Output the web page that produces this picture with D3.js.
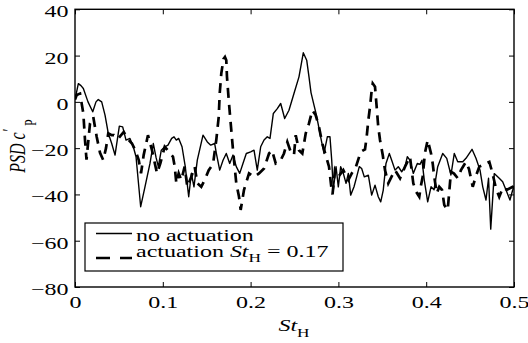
<!DOCTYPE html>
<html>
<head>
<meta charset="utf-8">
<script src="https://cdn.jsdelivr.net/npm/d3@7"></script>
<style>
  html, body { margin: 0; padding: 0; background: #fff; }
  svg { display: block; }
  text { font-family: "Liberation Serif", "DejaVu Serif", serif; fill: #000; }
</style>
</head>
<body>
<svg id="chart" width="528" height="343"></svg>
<script>
// Strouhal number axis and pressure-fluctuation PSD (dB) for both cases
const stNoAct = [0.000,0.0038,0.0068,0.0095,0.0148,0.0202,0.0239,0.0265,0.0304,0.0342,0.0379,0.0418,0.0456,0.0505,0.0543,0.0581,0.0626,0.0664,0.0695,0.0748,0.0797,0.0854,0.0892,0.0923,0.0949,0.0983,0.1022,0.1059,0.1101,0.1128,0.1154,0.1181,0.1219,0.1256,0.1295,0.1325,0.1355,0.1393,0.1458,0.1507,0.1546,0.1591,0.1609,0.1648,0.1686,0.1723,0.1762,0.1800,0.1837,0.1876,0.1913,0.1951,0.2001,0.2039,0.2076,0.2115,0.2153,0.2190,0.2221,0.2259,0.2304,0.2343,0.2388,0.2437,0.2494,0.2551,0.2600,0.2639,0.2665,0.2688,0.2722,0.2745,0.2768,0.2805,0.2836,0.2874,0.2904,0.2924,0.2942,0.2973,0.2999,0.3026,0.3056,0.3087,0.3113,0.3140,0.3178,0.3208,0.3238,0.3265,0.3295,0.3341,0.3379,0.3417,0.3454,0.3482,0.3511,0.3542,0.3580,0.3607,0.3645,0.3682,0.3721,0.3759,0.3785,0.3815,0.3853,0.3899,0.3929,0.3952,0.3978,0.4017,0.4055,0.4089,0.4131,0.4188,0.4234,0.4282,0.4320,0.4359,0.4416,0.4453,0.4522,0.4567,0.4613,0.4644,0.4681,0.4710,0.4735,0.4775,0.4832,0.4871,0.4917,0.4954,0.4985,0.5000];
const psdNoAct = [1.0,7.9,7.0,5.8,0.0,-4.3,0.0,1.0,0.0,-5.7,-13.6,-18.0,-23.0,-10.5,-10.8,-16.5,-15.8,-19.4,-23.7,-45.3,-36.7,-26.6,-18.0,-24.0,-28.0,-20.9,-19.4,-18.7,-15.8,-15.1,-16.5,-15.8,-19.4,-28.0,-41.0,-30.9,-36.7,-25.2,-14.4,-17.3,-18.7,-18.0,-22.0,-29.5,-25.2,-22.3,-26.6,-23.0,-28.0,-30.9,-26.6,-22.3,-21.6,-20.9,-29.5,-19.4,-16.5,-15.1,-15.8,-5.0,-2.9,-0.7,-7.2,-3.6,3.6,10.8,21.2,18.0,10.8,4.0,-1.4,-5.0,-9.3,-16.5,-22.3,-15.1,-15.1,-25.2,-38.1,-28.0,-36.7,-28.0,-30.9,-35.2,-30.9,-40.3,-36.7,-32.4,-28.0,-28.8,-32.4,-31.7,-40.3,-36.0,-41.0,-43.2,-38.1,-26.6,-22.3,-25.2,-29.5,-28.0,-30.2,-28.0,-23.7,-25.2,-30.9,-26.6,-27.0,-25.2,-33.8,-43.2,-36.7,-38.0,-28.0,-22.3,-24.4,-31.6,-22.3,-25.9,-25.9,-24.4,-20.5,-24.4,-29.5,-36.7,-42.4,-33.0,-55.0,-31.0,-33.0,-34.5,-38.8,-42.4,-38.1,-37.0];

const stAct = [0.000,0.0019,0.0057,0.0095,0.0114,0.0131,0.0171,0.0208,0.0247,0.0285,0.0322,0.0353,0.0379,0.0418,0.0444,0.0490,0.0555,0.0612,0.0649,0.0687,0.0726,0.0752,0.0782,0.0831,0.0877,0.0934,0.0972,0.1022,0.1059,0.1116,0.1136,0.1154,0.1181,0.1211,0.1249,0.1279,0.1325,0.1363,0.1393,0.1438,0.1477,0.1523,0.1572,0.1609,0.1637,0.1648,0.1666,0.1691,0.1708,0.1723,0.1731,0.1751,0.1780,0.1800,0.1837,0.1868,0.1887,0.1925,0.1982,0.2039,0.2096,0.2153,0.2210,0.2244,0.2286,0.2343,0.2380,0.2418,0.2457,0.2494,0.2514,0.2551,0.2589,0.2628,0.2665,0.2703,0.2741,0.2779,0.2817,0.2855,0.2893,0.2919,0.2933,0.2961,0.2999,0.3056,0.3113,0.3152,0.3200,0.3254,0.3303,0.3322,0.3341,0.3360,0.3379,0.3391,0.3417,0.3436,0.3454,0.3474,0.3505,0.3531,0.3568,0.3610,0.3645,0.3702,0.3759,0.3815,0.3853,0.3884,0.3921,0.3941,0.3960,0.3986,0.4017,0.4055,0.4074,0.4092,0.4120,0.4149,0.4180,0.4206,0.4245,0.4282,0.4317,0.4359,0.4396,0.4453,0.4487,0.4530,0.4567,0.4605,0.4658,0.4719,0.4749,0.4795,0.4832,0.4875,0.4920,0.4985,0.5000];
const psdAct = [1.0,3.0,3.6,-5.0,-16.5,-25.0,-9.3,-6.5,-15.1,-22.0,-25.2,-20.0,-13.6,-14.4,-14.4,-16.0,-13.0,-16.5,-18.0,-20.9,-25.2,-30.9,-23.0,-14.4,-20.9,-30.9,-26.6,-19.4,-21.0,-23.7,-28.0,-35.2,-30.9,-33.8,-28.0,-36.7,-32.4,-28.0,-35.2,-36.7,-33.8,-29.5,-26.9,-16.5,-6.5,3.6,12.2,18.5,19.4,18.0,10.8,0.7,-12.2,-20.9,-35.2,-41.0,-46.7,-38.0,-30.9,-32.4,-30.9,-28.8,-22.3,-20.9,-26.6,-25.2,-22.3,-17.3,-21.6,-23.0,-14.4,-20.9,-22.3,-13.6,-9.3,-3.6,-5.7,-10.8,-18.0,-23.0,-28.0,-36.7,-40.0,-29.5,-32.4,-29.5,-33.8,-30.9,-28.0,-21.6,-20.5,-15.1,-7.9,-2.2,5.0,7.9,6.5,-2.2,-10.8,-16.5,-23.0,-29.5,-35.2,-32.0,-29.5,-33.0,-28.0,-23.7,-35.2,-38.8,-41.0,-36.0,-32.4,-22.0,-16.5,-22.3,-26.6,-32.4,-39.5,-36.7,-38.0,-44.6,-46.7,-30.2,-31.0,-33.0,-29.5,-25.9,-29.0,-36.7,-32.0,-28.0,-27.0,-25.9,-30.0,-37.4,-41.0,-37.0,-38.0,-36.7,-37.0];

const xTicks = [0, 0.1, 0.2, 0.3, 0.4, 0.5];
const xTickLabels = ["0", "0.1", "0.2", "0.3", "0.4", "0.5"];
const yTicks = [-80, -60, -40, -20, 0, 20, 40];
const yTickLabels = ["\u221280", "\u221260", "\u221240", "\u221220", "0", "20", "40"];

const svg = d3.select("#chart");
const plotLeft = 75, plotRight = 514, plotTop = 9.3, plotBottom = 287;
const fontSize = 16, stretch = 1.5;
const serif = "Liberation Serif";

const x = d3.scaleLinear().domain([0, 0.5]).range([plotLeft, plotRight]);
const y = d3.scaleLinear().domain([-80, 40]).range([plotBottom, plotTop]);

svg.append("clipPath").attr("id", "plot-clip")
  .append("rect").attr("x", plotLeft).attr("y", plotTop)
  .attr("width", plotRight - plotLeft).attr("height", plotBottom - plotTop);

// axes with inward ticks on all four sides
const tick = 5;
function styleAxis(g) {
  g.select(".domain").remove();
  g.attr("font-family", serif);
  g.selectAll(".tick line").attr("stroke", "#000").attr("stroke-width", 1);
}
svg.append("g").attr("transform", `translate(0,${plotBottom})`)
  .call(d3.axisBottom(x).tickValues(xTicks).tickSizeInner(-tick).tickSizeOuter(0)
    .tickFormat((d, i) => xTickLabels[i]).tickPadding(0))
  .call(styleAxis)
  .call(g => g.selectAll(".tick text")
    .attr("y", 0).attr("dy", 0)
    .attr("transform", `translate(0,21) scale(${stretch},1)`)
    .attr("font-size", fontSize));
svg.append("g").attr("transform", `translate(0,${plotTop})`)
  .call(d3.axisTop(x).tickValues(xTicks).tickSizeInner(-tick).tickSizeOuter(0).tickFormat(""))
  .call(styleAxis);
svg.append("g").attr("transform", `translate(${plotLeft},0)`)
  .call(d3.axisLeft(y).tickValues(yTicks).tickSizeInner(-tick).tickSizeOuter(0)
    .tickFormat((d, i) => yTickLabels[i]).tickPadding(0))
  .call(styleAxis)
  .call(g => g.selectAll(".tick text")
    .attr("x", 0).attr("dy", 0)
    .attr("transform", `translate(-6.5,7.5) scale(${stretch},1)`)
    .attr("text-anchor", "end")
    .attr("font-size", fontSize));
svg.append("g").attr("transform", `translate(${plotRight},0)`)
  .call(d3.axisRight(y).tickValues(yTicks).tickSizeInner(-tick).tickSizeOuter(0).tickFormat(""))
  .call(styleAxis);

// the two spectra
const line = d3.line().x(d => x(d[0])).y(d => y(d[1]));
const plot = svg.append("g").attr("clip-path", "url(#plot-clip)");
plot.append("path")
  .datum(d3.zip(stNoAct, psdNoAct))
  .attr("d", line).attr("fill", "none")
  .attr("stroke", "#000").attr("stroke-width", 1.4).attr("stroke-linejoin", "round");
plot.append("path")
  .datum(d3.zip(stAct, psdAct))
  .attr("d", line).attr("fill", "none")
  .attr("stroke", "#000").attr("stroke-width", 2.7)
  .attr("stroke-dasharray", "10,7");

// frame
svg.append("rect").attr("x", plotLeft).attr("y", plotTop)
  .attr("width", plotRight - plotLeft).attr("height", plotBottom - plotTop)
  .attr("fill", "none").attr("stroke", "#000").attr("stroke-width", 1.4);

// legend
const lg = svg.append("g");
lg.append("rect").attr("x", 85).attr("y", 223).attr("width", 258).attr("height", 48)
  .attr("fill", "#fff").attr("stroke", "#000").attr("stroke-width", 1.2);
lg.append("line").attr("x1", 96).attr("x2", 132).attr("y1", 233.5).attr("y2", 233.5)
  .attr("stroke", "#000").attr("stroke-width", 1.4);
lg.append("line").attr("x1", 96).attr("x2", 132).attr("y1", 258).attr("y2", 258)
  .attr("stroke", "#000").attr("stroke-width", 2.7).attr("stroke-dasharray", "14,10");
lg.append("text").attr("transform", `translate(136,241) scale(${stretch},1)`)
  .attr("font-size", fontSize).text("no actuation");
const t2 = lg.append("text").attr("transform", `translate(136,257) scale(${stretch},1)`)
  .attr("font-size", fontSize);
t2.append("tspan").text("actuation ");
t2.append("tspan").attr("font-style", "italic").text("St");
t2.append("tspan").attr("font-size", 11.5).attr("dy", 5).text("H");
t2.append("tspan").attr("dy", -5).text(" = 0.17");

// axis titles
const xl = svg.append("text").attr("transform", `translate(294,331) scale(${stretch},1)`)
  .attr("text-anchor", "middle").attr("font-size", fontSize);
xl.append("tspan").attr("font-style", "italic").text("St");
xl.append("tspan").attr("font-size", 11.5).attr("dy", 6).text("H");

const yl = svg.append("text").attr("transform", `translate(25,146) rotate(-90) scale(1,${stretch})`)
  .attr("text-anchor", "middle").attr("font-size", fontSize);
yl.append("tspan").attr("font-style", "italic").text("PSD c");
yl.append("tspan").attr("font-size", 12).attr("dx", 1).attr("dy", -6).text("\u2032");
yl.append("tspan").attr("font-size", 11.5).attr("dx", 3).attr("dy", 13).text("P");
</script>
</body>
</html>
